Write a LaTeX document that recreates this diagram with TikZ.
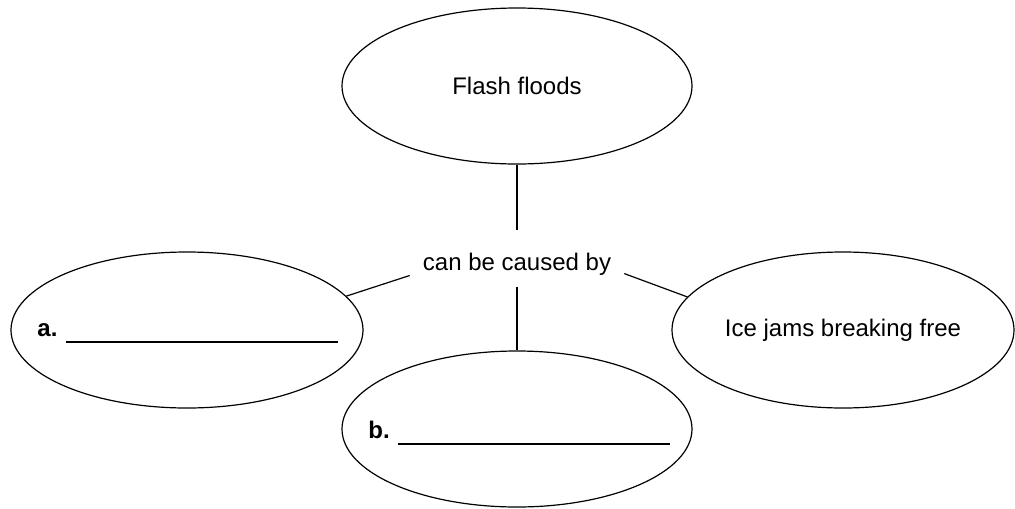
\documentclass[tikz,border=0pt]{standalone}
\usepackage{fontspec}
\setmainfont{Liberation Sans}
\usetikzlibrary{shapes.geometric}
\tikzset{every picture/.style={line width=0.9pt}}
\tikzset{
  bubble/.style={draw, ellipse, inner sep=0pt, minimum width=262.5pt, minimum height=117pt, font=\fontsize{18}{20}\selectfont},
  linktext/.style={inner xsep=0pt, inner ysep=8.25pt, text height=21pt, text depth=3.75pt, minimum width=160pt, font=\fontsize{18}{20}\selectfont},
  blank/.style={inner sep=0pt, font=\fontsize{18}{20}\selectfont}
}
\newcommand{\answerline}{\hspace{6pt}\rule[-4.6pt]{204pt}{1.1pt}}

\begin{document}
\begin{tikzpicture}[x=0.75pt,y=0.75pt,yscale=-1,xscale=1]
\useasboundingbox (0,0) rectangle (1015,508);

%Shape: Ellipse
\node [bubble] (flood) at (517,86) {Flash floods};
%Shape: Ellipse
\node [bubble, minimum width=264pt] (ea) at (187,330) {};
%Shape: Ellipse
\node [bubble] (eb) at (517,429) {};
%Shape: Ellipse
\node [bubble, minimum width=256.5pt] (ec) at (843,330) {Ice jams breaking free};

% Text Node
\node [linktext] (cause) at (517,258.5) {can be caused by};
% Text Node
\node [blank] (la) at (187.5,333) {\textbf{a.}\answerline};
% Text Node
\node [blank] (lb) at (519,433) {\textbf{b.}\answerline};

%Straight Lines
\draw (flood.south) -- (cause.north) ;
\draw (cause.south) -- (eb.north) ;
\draw (cause.189) -- (ea.12) ;
\draw (cause.-8) -- (ec.168) ;

\end{tikzpicture}
\end{document}
